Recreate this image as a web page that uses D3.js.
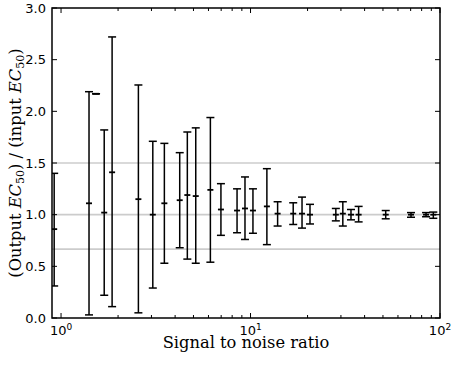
<!DOCTYPE html>
<html>
<head>
<meta charset="utf-8">
<script src="https://cdn.jsdelivr.net/npm/d3@7/dist/d3.min.js"></script>
<style>
  body { margin: 0; background: #fff; }
  svg { display: block; }
</style>
</head>
<body>
<div id="chart"></div>
<script>
// Chart size and plot area
const width = 454;
const height = 365;
const margin = { top: 8, right: 14, bottom: 47, left: 52 };

// Data: signal-to-noise ratio, EC50 ratio, lower and upper error limits
const snr   = [0.92, 1.405, 1.53, 1.69, 1.86, 2.56, 3.05, 3.51, 4.23, 4.64, 5.14, 6.14, 6.98, 8.49, 9.35,
               10.3, 12.2, 13.9, 16.8, 18.7, 20.6, 28.2, 30.7, 33.9, 37.2, 51.7, 70.3, 84.4, 92.2];
const ratio = [0.86, 1.11, 2.17, 1.02, 1.41, 1.15, 1.00, 1.11, 1.14, 1.19, 1.18, 1.24, 1.05, 1.04, 1.06,
               1.04, 1.08, 1.01, 1.01, 1.01, 1.00, 1.00, 1.01, 1.00, 1.00, 1.00, 1.00, 1.00, 1.00];
const lower = [0.31, 0.03, 2.17, 0.22, 0.11, 0.05, 0.29, 0.53, 0.68, 0.57, 0.53, 0.54, 0.80, 0.825, 0.76,
               0.82, 0.71, 0.89, 0.905, 0.87, 0.91, 0.94, 0.89, 0.95, 0.93, 0.96, 0.975, 0.98, 0.965];
const upper = [1.40, 2.19, 2.17, 1.82, 2.72, 2.255, 1.71, 1.69, 1.60, 1.80, 1.84, 1.94, 1.30, 1.25, 1.365,
               1.25, 1.445, 1.125, 1.115, 1.17, 1.10, 1.06, 1.125, 1.05, 1.08, 1.04, 1.02, 1.02, 1.025];

// Reference lines and ticks
const refLines = [1.5, 1.0, 2 / 3];
const yTicks = [0, 0.5, 1.0, 1.5, 2.0, 2.5, 3.0];
const xMajor = [1, 10, 100];

const data = snr.map((s, i) => ({ x: s, y: ratio[i], lo: lower[i], hi: upper[i] }));

const svg = d3.select("#chart")
    .append("svg")
    .attr("width", width)
    .attr("height", height);

const x = d3.scaleLog()
    .domain([0.896, 100])
    .range([margin.left, width - margin.right]);

const y = d3.scaleLinear()
    .domain([0, 3])
    .range([height - margin.bottom, margin.top]);

const x0 = margin.left, x1 = width - margin.right;
const y0 = height - margin.bottom, y1 = margin.top;

svg.append("clipPath")
    .attr("id", "plot-clip")
    .append("rect")
    .attr("x", x0)
    .attr("y", y1)
    .attr("width", x1 - x0)
    .attr("height", y0 - y1);

const plot = svg.append("g").attr("clip-path", "url(#plot-clip)");

// Grey reference lines
plot.selectAll(".ref")
    .data(refLines)
    .join("line")
    .attr("class", "ref")
    .attr("x1", x0)
    .attr("x2", x1)
    .attr("y1", d => y(d))
    .attr("y2", d => y(d))
    .attr("stroke", "#cccccc")
    .attr("stroke-width", 1.6);

// Error bars
const cap = 4;
const bars = plot.selectAll(".bar")
    .data(data)
    .join("g")
    .attr("class", "bar")
    .attr("stroke", "#000")
    .attr("stroke-width", 1.5);

bars.append("line")
    .attr("x1", d => x(d.x))
    .attr("x2", d => x(d.x))
    .attr("y1", d => y(d.lo))
    .attr("y2", d => y(d.hi));

bars.append("line")
    .attr("x1", d => x(d.x) - cap)
    .attr("x2", d => x(d.x) + cap)
    .attr("y1", d => y(d.lo))
    .attr("y2", d => y(d.lo));

bars.append("line")
    .attr("x1", d => x(d.x) - cap)
    .attr("x2", d => x(d.x) + cap)
    .attr("y1", d => y(d.hi))
    .attr("y2", d => y(d.hi));

// Centre marks
bars.append("line")
    .attr("x1", d => x(d.x) - 3)
    .attr("x2", d => x(d.x) + 3)
    .attr("y1", d => y(d.y))
    .attr("y2", d => y(d.y))
    .attr("stroke-width", 1.8);

// Ticks (inside, on all four sides)
const ticks = svg.append("g").attr("stroke", "#000").attr("stroke-width", 1);

const minor = [];
for (let dec = 1; dec <= 10; dec *= 10) {
    for (let k = 2; k <= 9; k++) minor.push(dec * k);
}

xMajor.forEach(v => {
    const px = x(v);
    ticks.append("line").attr("x1", px).attr("x2", px).attr("y1", y0).attr("y2", y0 - 5);
    ticks.append("line").attr("x1", px).attr("x2", px).attr("y1", y1).attr("y2", y1 + 5);
});
minor.forEach(v => {
    const px = x(v);
    ticks.append("line").attr("x1", px).attr("x2", px).attr("y1", y0).attr("y2", y0 - 3);
    ticks.append("line").attr("x1", px).attr("x2", px).attr("y1", y1).attr("y2", y1 + 3);
});
yTicks.forEach(v => {
    const py = y(v);
    ticks.append("line").attr("x1", x0).attr("x2", x0 + 5).attr("y1", py).attr("y2", py);
    ticks.append("line").attr("x1", x1).attr("x2", x1 - 5).attr("y1", py).attr("y2", py);
});

// Frame
svg.append("rect")
    .attr("x", x0)
    .attr("y", y1)
    .attr("width", x1 - x0)
    .attr("height", y0 - y1)
    .attr("fill", "none")
    .attr("stroke", "#000")
    .attr("stroke-width", 1.5);

// Tick labels
svg.selectAll(".ylab")
    .data(yTicks)
    .join("text")
    .attr("class", "ylab")
    .attr("x", x0 - 6)
    .attr("y", d => y(d))
    .attr("dy", "0.36em")
    .attr("text-anchor", "end")
    .style("font-family", "DejaVu Sans")
    .style("font-size", "13px")
    .text(d => d.toFixed(1));

const xl = svg.selectAll(".xlab")
    .data(xMajor)
    .join("text")
    .attr("class", "xlab")
    .attr("x", d => x(d))
    .attr("y", y0 + 17)
    .attr("text-anchor", "middle")
    .style("font-family", "DejaVu Sans")
    .style("font-size", "13px");
xl.append("tspan").text("10");
xl.append("tspan")
    .attr("dy", -5)
    .style("font-size", "9px")
    .text(d => Math.round(Math.log10(d)));

// Axis titles
svg.append("text")
    .attr("x", (x0 + x1) / 2)
    .attr("y", height - 17.5)
    .attr("text-anchor", "middle")
    .style("font-family", "DejaVu Serif")
    .style("font-size", "16.3px")
    .text("Signal to noise ratio");

const yt = svg.append("text")
    .attr("transform", `translate(21,${(y0 + y1) / 2}) rotate(-90)`)
    .attr("text-anchor", "middle")
    .style("font-family", "DejaVu Serif")
    .style("font-size", "16.3px");
yt.append("tspan").text("(Output ");
yt.append("tspan").style("font-style", "italic").text("EC");
yt.append("tspan").attr("dy", 3).style("font-size", "11px").text("50");
yt.append("tspan").attr("dy", -3).text(") / (input ");
yt.append("tspan").style("font-style", "italic").text("EC");
yt.append("tspan").attr("dy", 3).style("font-size", "11px").text("50");
yt.append("tspan").attr("dy", -3).text(")");
</script>
</body>
</html>
